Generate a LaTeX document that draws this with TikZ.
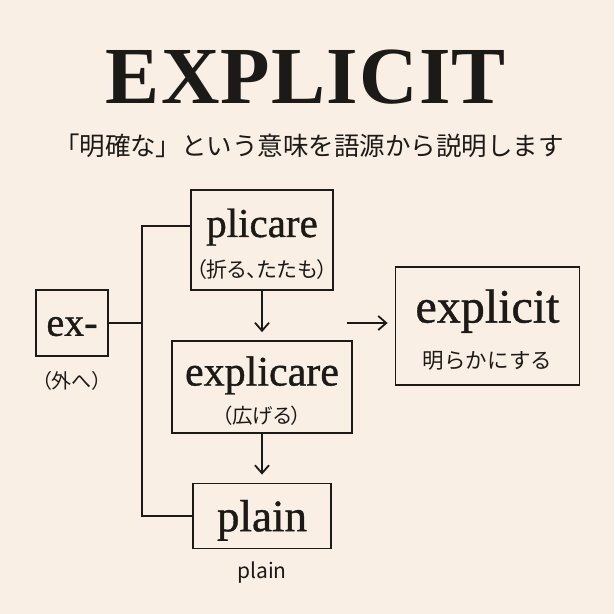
\documentclass[tikz,border=0pt]{standalone}
\usepackage{fontspec}
\setmainfont{Liberation Serif}[FakeBold=0.9]
\newfontfamily\jp{Noto Sans CJK JP}
\newfontfamily\jpp{Noto Sans CJK JP}[RawFeature=+palt]
\newfontfamily\titlefont[LetterSpace=1.5]{Liberation Serif}
\usetikzlibrary{positioning,arrows.meta}

\definecolor{paper}{HTML}{F9EFE5}
\definecolor{ink}{HTML}{1C1A17}
\newcommand{\fs}[2]{\fontsize{#1}{#2}\selectfont}
\newcommand{\lift}[1]{\rule{0pt}{#1pt}}

\begin{document}
\begin{tikzpicture}[
                x=1pt, y=-1pt,
                wordbox/.style={draw=ink, line width=1.8pt, align=center, inner sep=0pt, text=ink},
                link/.style={draw=ink, line width=1.8pt},
                arr/.style={link, shorten >=8pt, -{Straight Barb[length=8pt,width=14pt]}},
                gloss/.style={text=ink, font=\jpp\fs{20}{20}, inner sep=0pt}
                ]
                \fill[paper] (0,0) rectangle (614,614);
                \useasboundingbox (0,0) rectangle (614,614);

                \node[text=ink, font=\titlefont\bfseries\fs{81}{81}] (title) at (306,77.5) {EXPLICIT};
                \node[text=ink, font=\jp\fs{25.5}{25.5}] (subtitle) at (309,146) {「明確な」という意味を語源から説明します};

                \node[wordbox, minimum width=72pt, minimum height=66pt, font=\fs{40}{40}] (ex) at (72,323) {\lift{26}ex-};
                \node[wordbox, minimum width=142pt, minimum height=100pt, font=\fs{41}{41}] (plicare) at (262,240)
                    {\lift{37}plicare\\{\jpp\fs{21}{41}（折る、たたも）}};
                \node[wordbox, minimum width=180pt, minimum height=92pt, font=\fs{42}{38}] (explicare) at (262,387)
                    {\lift{37}explicare\\{\jpp\fs{20.5}{38}（広げる）}};
                \node[wordbox, minimum width=138pt, minimum height=65pt, font=\fs{45}{45}] (plain) at (262,516) {\lift{40}plain};
                \node[wordbox, minimum width=184pt, minimum height=118pt, font=\fs{48}{46}] (explicit) at (487.5,326)
                    {\lift{41}explicit\\{\jp\fs{21.5}{46}明らかにする}};

                \node[gloss, below=24pt of ex, anchor=center] (exgloss) {（外へ）};
                \node[gloss, below=23pt of plain, anchor=center, font=\jp\fs{21}{21}] (plaingloss) {plain};

                % branches from ex-
                \coordinate (trunktop) at (142,226);
                \coordinate (trunkbot) at (142,516);
                \draw[link] (ex.east) -- (ex.east -| trunktop);
                \draw[link] (plicare.west |- trunktop) -- (trunktop) -- (trunkbot) -- (plain.west);

                \draw[arr] (plicare.south) -- (explicare.north);
                \draw[arr] (explicare.south) -- (plain.north);
                \coordinate (joint) at (347,323);
                \draw[arr, shorten >=0pt] (joint) -- ([xshift=-7pt]explicit.west |- joint);
\end{tikzpicture}
\end{document}
